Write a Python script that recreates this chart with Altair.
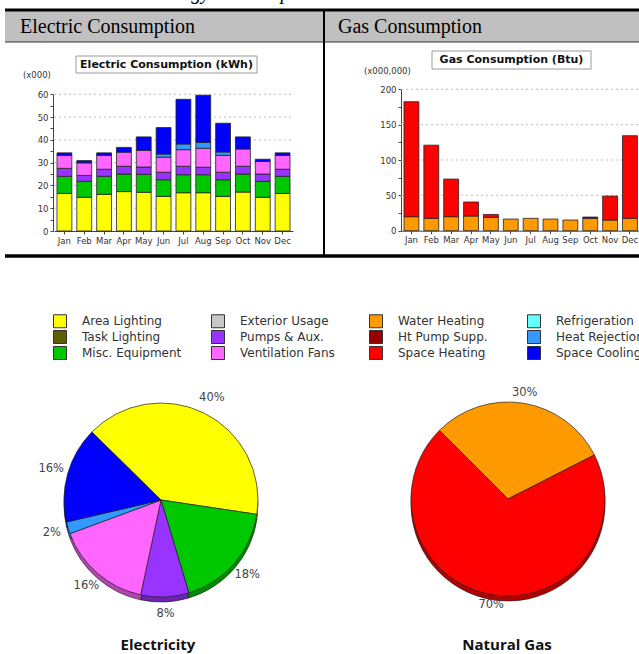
import math
import altair as alt
import pandas as pd

months = ["Jan", "Feb", "Mar", "Apr", "May", "Jun", "Jul", "Aug", "Sep", "Oct", "Nov", "Dec"]

# Electric consumption, kWh (x000), stacked bottom -> top
area_lighting = [16.5, 14.8, 16.1, 17.3, 17.0, 15.2, 16.8, 16.8, 15.2, 17.1, 14.8, 16.5]
misc_equipment = [7.5, 7.0, 7.9, 7.7, 7.9, 7.3, 7.9, 7.9, 7.3, 7.9, 7.0, 7.5]
pumps_aux = [3.5, 2.6, 3.1, 3.4, 3.2, 3.3, 3.7, 3.3, 3.3, 3.4, 3.2, 3.1]
ventilation_fans = [5.7, 5.5, 6.1, 6.2, 7.3, 6.6, 7.3, 8.3, 7.4, 7.6, 5.5, 6.1]
heat_rejection = [0.0, 0.0, 0.0, 0.0, 0.0, 1.4, 2.5, 2.6, 1.5, 0.0, 0.0, 0.0]
space_cooling = [1.1, 1.0, 1.1, 2.1, 5.9, 11.6, 19.6, 20.7, 12.6, 5.3, 1.0, 1.1]

# Gas consumption, Btu (x000,000), stacked bottom -> top
water_heating = [19.8, 17.5, 19.8, 20.8, 18.9, 16.5, 17.5, 16.5, 15.1, 17.5, 15.1, 17.5]
ht_pump_supp = [0, 0, 0, 0, 0, 0, 0, 0, 0, 1.8, 0, 0]
space_heating = [162.7, 103.5, 53.2, 19.8, 4.1, 0, 0, 0, 0, 0, 33.9, 116.9]

# Pie shares (%) as labelled
elec_pie_uses = ["Area Lighting", "Misc. Equipment", "Pumps & Aux.", "Ventilation Fans",
                 "Heat Rejection", "Space Cooling"]
elec_pie_share = [40, 18, 8, 16, 2, 16]
gas_pie_uses = ["Water Heating", "Space Heating"]
gas_pie_share = [30, 70]

# Legend (column by column, 4 columns of 3)
legend_order = ["Area Lighting", "Task Lighting", "Misc. Equipment",
                "Exterior Usage", "Pumps & Aux.", "Ventilation Fans",
                "Water Heating", "Ht Pump Supp.", "Space Heating",
                "Refrigeration", "Heat Rejection", "Space Cooling"]
legend_colors = ["#ffff00", "#5e5e00", "#00c800",
                 "#c8c8c8", "#9933ff", "#ff66ff",
                 "#ff9900", "#990000", "#ff0000",
                 "#66ffff", "#3399ff", "#0000ff"]

elec_series = [("Area Lighting", area_lighting), ("Misc. Equipment", misc_equipment),
               ("Pumps & Aux.", pumps_aux), ("Ventilation Fans", ventilation_fans),
               ("Heat Rejection", heat_rejection), ("Space Cooling", space_cooling)]
gas_series = [("Water Heating", water_heating), ("Ht Pump Supp.", ht_pump_supp),
              ("Space Heating", space_heating)]

elec_df = pd.DataFrame([{"month": m, "use": u, "v": vals[i], "k": j}
                        for j, (u, vals) in enumerate(elec_series) for i, m in enumerate(months)])
gas_df = pd.DataFrame([{"month": m, "use": u, "v": vals[i], "k": j}
                       for j, (u, vals) in enumerate(gas_series) for i, m in enumerate(months)])
elec_pie_df = pd.DataFrame({"use": elec_pie_uses, "share": elec_pie_share, "k": range(len(elec_pie_uses))})
gas_pie_df = pd.DataFrame({"use": gas_pie_uses, "share": gas_pie_share, "k": range(len(gas_pie_uses))})
elec_grid_df = pd.DataFrame({"t": [10, 20, 30, 40, 50, 60]})
gas_grid_df = pd.DataFrame({"t": [50, 100, 150, 200]})
one = pd.DataFrame({"k": [0]})

W, H = 639, 654
TXT = "#333333"
AX_FONT = "DejaVu Sans"

color_scale = alt.Scale(domain=legend_order, range=legend_colors)
legend = alt.Legend(orient="none", legendX=53, legendY=314, columns=4, gridAlign="all",
                    columnPadding=27, rowPadding=-2, symbolType="square", symbolSize=169,
                    symbolStrokeColor="#333333", symbolStrokeWidth=1, symbolOpacity=1,
                    labelFont=AX_FONT, labelFontSize=12, labelColor=TXT, labelOffset=15,
                    labelLimit=300, title=None, padding=0)
color_enc = alt.Color("use:N", scale=color_scale, legend=legend)


def deco_rect(x, x2, y, y2, **kw):
    return alt.Chart(one).mark_rect(**kw).encode(
        x=alt.value(x), x2=alt.value(x2), y=alt.value(y), y2=alt.value(y2))


def deco_rule(x, x2, y, y2, **kw):
    return alt.Chart(one).mark_rule(**kw).encode(
        x=alt.value(x), x2=alt.value(x2), y=alt.value(y), y2=alt.value(y2))


def deco_text(x, y, text, **kw):
    return alt.Chart(one).mark_text(text=text, **kw).encode(x=alt.value(x), y=alt.value(y))


layers = []

# ---- table frame ----
layers.append(deco_rect(5, W, 11, 42, color="#c0c0c0"))
layers.append(deco_rule(5, W, 10, 10, color="black", strokeWidth=3))
layers.append(deco_rule(5, W, 42, 42, color="#333333", strokeWidth=1))
layers.append(deco_rule(5, W, 256, 256, color="black", strokeWidth=3.5))
layers.append(deco_rule(324, 324, 10, 256, color="black", strokeWidth=2))
layers.append(deco_text(153, -1, "Energy Consumption", font="Liberation Serif", fontSize=20,
                        fontStyle="italic", align="left", baseline="alphabetic", color="black"))
layers.append(deco_text(20, 33, "Electric Consumption", font="Liberation Serif", fontSize=20,
                        align="left", baseline="alphabetic", color="black"))
layers.append(deco_text(338, 33, "Gas Consumption", font="Liberation Serif", fontSize=20,
                        align="left", baseline="alphabetic", color="black"))

# ---- chart title boxes ----
layers.append(deco_rect(76, 257, 56, 73, fill="white", stroke="#9a9a9a", strokeWidth=1))
layers.append(deco_text(166.5, 64.5, "Electric Consumption (kWh)", font=AX_FONT, fontSize=11,
                        fontWeight="bold", color="#111111", align="center", baseline="middle"))
layers.append(deco_rect(432, 591, 51, 69, fill="white", stroke="#9a9a9a", strokeWidth=1))
layers.append(deco_text(511.5, 60, "Gas Consumption (Btu)", font=AX_FONT, fontSize=11,
                        fontWeight="bold", color="#111111", align="center", baseline="middle"))
layers.append(deco_text(23, 75, "(x000)", font=AX_FONT, fontSize=8.5, color=TXT,
                        align="left", baseline="middle"))
layers.append(deco_text(364, 71, "(x000,000)", font=AX_FONT, fontSize=8.5, color=TXT,
                        align="left", baseline="middle"))

axis_style = dict(labelFont=AX_FONT, labelFontSize=8.5, labelColor=TXT, domainColor="#444444",
                  tickColor="#444444", tickSize=3, grid=False, title=None, labelPadding=2)

# ---- electric bars ----
e_x = alt.Scale(domain=months, range=[54, 293], paddingInner=0.25, paddingOuter=0.15)
e_y = alt.Scale(domain=[0, 60], range=[231, 94.3], nice=False)
layers.append(alt.Chart(elec_grid_df).mark_rule(color="#bdbdbd", strokeDash=[2, 3], strokeWidth=1).encode(
    y=alt.Y("t:Q", scale=e_y, axis=None), x=alt.value(54), x2=alt.value(292)))
layers.append(alt.Chart(elec_df).transform_filter("datum.v > 0").mark_bar(
    stroke="#222222", strokeWidth=0.8).encode(
    x=alt.X("month:N", sort=months, scale=e_x,
            axis=alt.Axis(orient="bottom", offset=231 - H, labelAngle=0, **axis_style)),
    y=alt.Y("sum(v):Q", stack="zero", scale=e_y,
            axis=alt.Axis(orient="left", offset=-53, values=list(range(0, 61, 5)),
                          labelExpr="datum.value % 10 == 0 ? datum.label : ''", **axis_style)),
    color=color_enc,
    order=alt.Order("k:Q", sort="ascending")))

# ---- gas bars ----
g_x = alt.Scale(domain=months, range=[401, 640.4], paddingInner=0.25, paddingOuter=0.15)
g_y = alt.Scale(domain=[0, 200], range=[230.7, 89.3], nice=False)
layers.append(alt.Chart(gas_grid_df).mark_rule(color="#bdbdbd", strokeDash=[2, 3], strokeWidth=1).encode(
    y=alt.Y("t:Q", scale=g_y, axis=None), x=alt.value(401), x2=alt.value(W)))
layers.append(alt.Chart(gas_df).transform_filter("datum.v > 0").mark_bar(
    stroke="#222222", strokeWidth=0.8).encode(
    x=alt.X("month:N", sort=months, scale=g_x,
            axis=alt.Axis(orient="bottom", offset=230.7 - H, labelAngle=0, **axis_style)),
    y=alt.Y("sum(v):Q", stack="zero", scale=g_y,
            axis=alt.Axis(orient="left", offset=-401, values=list(range(0, 201, 25)),
                          labelExpr="datum.value % 50 == 0 ? datum.label : ''", **axis_style)),
    color=color_enc,
    order=alt.Order("k:Q", sort="ascending")))


# ---- pies ----
def pie(df, cx, cy, r, start_deg, label_r):
    a0 = math.radians(start_deg) % (2 * math.pi)
    th = alt.Theta("share:Q", stack=True, scale=alt.Scale(range=[a0, a0 + 2 * math.pi]))
    out = []
    out.append(alt.Chart(df).mark_arc(radius=r, stroke="#222222", strokeWidth=0.6).encode(
        theta=th, color=color_enc, order=alt.Order("k:Q"), x=alt.value(cx), y=alt.value(cy + 5)))
    out.append(alt.Chart(one).mark_arc(radius=r, theta=0, theta2=2 * math.pi, color="black",
                                       opacity=0.3).encode(x=alt.value(cx), y=alt.value(cy + 5)))
    out.append(alt.Chart(df).mark_arc(radius=r, stroke="#222222", strokeWidth=0.7).encode(
        theta=th, color=color_enc, order=alt.Order("k:Q"), x=alt.value(cx), y=alt.value(cy)))
    out.append(alt.Chart(df).transform_calculate(label="datum.share + '%'").mark_text(
        radius=label_r, font=AX_FONT, fontSize=11.5, color="#444444").encode(
        theta=th, order=alt.Order("k:Q"), text="label:N", x=alt.value(cx), y=alt.value(cy)))
    return out


layers += pie(elec_pie_df, 161, 500, 97, -45.5, 114)
layers += pie(gas_pie_df, 508, 499, 97, -45.0, 107)
layers.append(deco_text(158, 645, "Electricity", font="Open Sans", fontSize=15, fontWeight="bold",
                        color="#111111", align="center", baseline="middle"))
layers.append(deco_text(507, 645, "Natural Gas", font="Open Sans", fontSize=15, fontWeight="bold",
                        color="#111111", align="center", baseline="middle"))

chart = alt.layer(*layers).resolve_scale(
    x="independent", y="independent", theta="independent"
).properties(
    width=W, height=H, padding=0, autosize=alt.AutoSizeParams(type="none"), background="white"
).configure_view(stroke=None)

chart.save("out.html", embed_options={"renderer": "svg", "actions": False})
